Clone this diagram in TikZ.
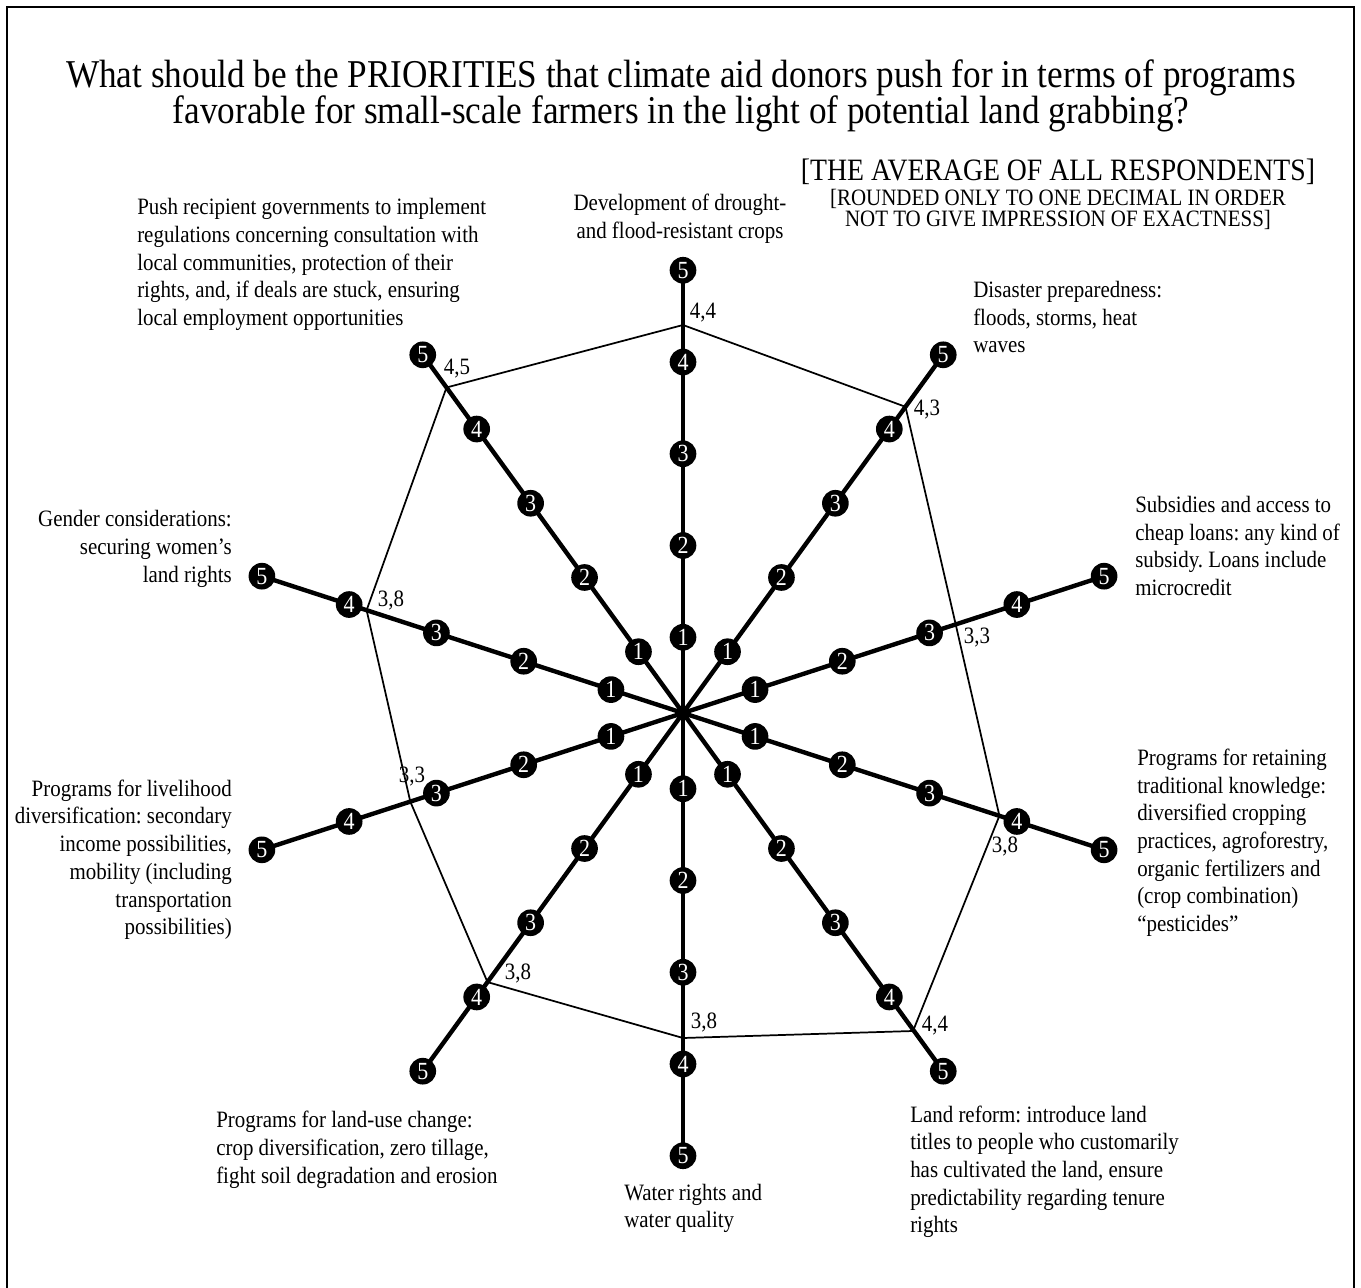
\documentclass[tikz,border=0pt]{standalone}
\usepackage{fontspec}
\setmainfont{Liberation Serif}
\usepackage{graphicx}
\frenchspacing
\newcommand{\vst}{1.12}
\newcommand{\blockL}[1]{\scalebox{1}[\vst]{\fontsize{15.7}{18.55}\selectfont\begin{tabular}{@{}l@{}}#1\end{tabular}}}
\newcommand{\blockR}[1]{\scalebox{1}[\vst]{\fontsize{15.7}{18.55}\selectfont\begin{tabular}{@{}r@{}}#1\end{tabular}}}
\newcommand{\blockC}[1]{\scalebox{1}[\vst]{\fontsize{15.7}{18.55}\selectfont\begin{tabular}{@{}c@{}}#1\end{tabular}}}
\newcommand{\ctrstack}[1]{\scalebox{1}[\vst]{\vbox{\lineskiplimit=-100pt\halign{\hfil##\hfil\cr#1\crcr}}}}
\newcommand{\stretched}[1]{\scalebox{1}[\vst]{#1}}
\begin{document}
\begin{tikzpicture}[x=0.75pt,y=-0.75pt,
  axisline/.style={line width=3.3pt,black},
  polyline/.style={line width=1.3pt,black,line join=miter},
  framelin/.style={line width=1.9pt,black},
  mk/.style={circle,fill=black,text=white,minimum size=20pt,inner sep=0pt,font=\fontsize{16.5}{16.5}\selectfont},
  val/.style={inner sep=0pt,font=\fontsize{15.7}{18}\selectfont},
  lab/.style={inner sep=0pt},
  ttl/.style={inner sep=0pt,font=\fontsize{26.4}{24.2}\selectfont},
  hd/.style={inner sep=0pt,font=\fontsize{15.7}{14.6}\selectfont}]
\useasboundingbox (0,0) rectangle (1361,1288);
\fill[white] (0,0) rectangle (1361,1288);
% frame
\draw[framelin] (7,1290) -- (7,7) -- (1354,7) -- (1354,1290);
% title
\node[ttl,anchor=north] (title) at (681,59) {\ctrstack{What should be the PRIORITIES that climate aid donors push for in terms of programs\cr favorable for small-scale farmers in the light of potential land grabbing?}};
% heading
\node[hd,anchor=north] (head) at (1058,159) {\ctrstack{{\fontsize{20.8}{14.6}\selectfont [THE AVERAGE OF ALL RESPONDENTS]}\cr\noalign{\vskip 1.6pt} [ROUNDED ONLY TO ONE DECIMAL IN ORDER\cr NOT TO GIVE IMPRESSION OF EXACTNESS]}};
% centre
\coordinate (c) at (683,713);
% polygon vertices
\coordinate (p1) at (683,325);
\coordinate (p2) at (905.5,406.8);
\coordinate (p3) at (955.7,624.4);
\coordinate (p4) at (999.4,815.8);
\coordinate (p5) at (913,1031);
\coordinate (p6) at (683,1038);
\coordinate (p7) at (487.5,982.1);
\coordinate (p8) at (410.3,801.6);
\coordinate (p9) at (366.6,610.2);
\coordinate (p10) at (446.5,387.5);
\draw[polyline] (p1) -- (p2) -- (p3) -- (p4) -- (p5) -- (p6) -- (p7) -- (p8) -- (p9) -- (p10) -- cycle;
% axes
\foreach \i/\a in {1/90,2/54,3/18,4/-18,5/-54,6/-90,7/-126,8/-162,9/162,10/126} {
  \coordinate (e\i) at ({683+442.75*cos(\a)},{713-442.75*sin(\a)});
  \draw[axisline] (c) -- (e\i);
}
\foreach \i/\a in {1/90,2/54,3/18,4/-18,5/-54,6/-90,7/-126,8/-162,9/162,10/126} {
  \foreach \k in {1,...,5} {
    \node[mk] (m\i-\k) at ({683+(91.75*\k-16)*cos(\a)},{713-(91.75*\k-16)*sin(\a)}) {\stretched{\k}};
  }
}
% value labels
\node[val] (v1) at (703,313) {\stretched{4,4}};
\node[val] (v10) at (457,369) {\stretched{4,5}};
\node[val] (v2) at (927,410) {\stretched{4,3}};
\node[val] (v9) at (391,601) {\stretched{3,8}};
\node[val] (v3) at (977,638) {\stretched{3,3}};
\node[val] (v4) at (1005,847) {\stretched{3,8}};
\node[val] (v5) at (935,1026) {\stretched{4,4}};
\node[val] (v6) at (704,1022) {\stretched{3,8}};
\node[val] (v7) at (518,973) {\stretched{3,8}};
\node[val] (v8) at (412,777) {\stretched{3,3}};
% axis labels
\node[lab,anchor=center] (lab1) at (680,219) {\blockC{Development of drought-\\and flood-resistant crops}};
\node[lab,anchor=west] (lab10) at (137,264.5) {\blockL{Push recipient governments to implement\\regulations concerning consultation with\\local communities, protection of their\\rights, and, if deals are stuck, ensuring\\local employment opportunities}};
\node[lab,anchor=west] (lab2) at (973,319.5) {\blockL{Disaster preparedness:\\floods, storms, heat\\waves}};
\node[lab,anchor=west] (lab3) at (1135,548.5) {\blockL{Subsidies and access to\\cheap loans: any kind of\\subsidy. Loans include\\microcredit}};
\node[lab,anchor=west] (lab4) at (1137,843) {\blockL{Programs for retaining\\traditional knowledge:\\diversified cropping\\practices, agroforestry,\\organic fertilizers and\\(crop combination)\\“pesticides”}};
\node[lab,anchor=west] (lab5) at (910,1172) {\blockL{Land reform: introduce land\\titles to people who customarily\\has cultivated the land, ensure\\predictability regarding tenure\\rights}};
\node[lab,anchor=west] (lab6) at (624,1208.5) {\blockL{Water rights and\\water quality}};
\node[lab,anchor=west] (lab7) at (216,1150) {\blockL{Programs for land-use change:\\crop diversification, zero tillage,\\fight soil degradation and erosion}};
\node[lab,anchor=east] (lab8) at (232,860) {\blockR{Programs for livelihood\\diversification: secondary\\income possibilities,\\mobility (including\\transportation\\possibilities)}};
\node[lab,anchor=east] (lab9) at (232,549) {\blockR{Gender considerations:\\securing women’s\\land rights}};
\end{tikzpicture}
\end{document}
